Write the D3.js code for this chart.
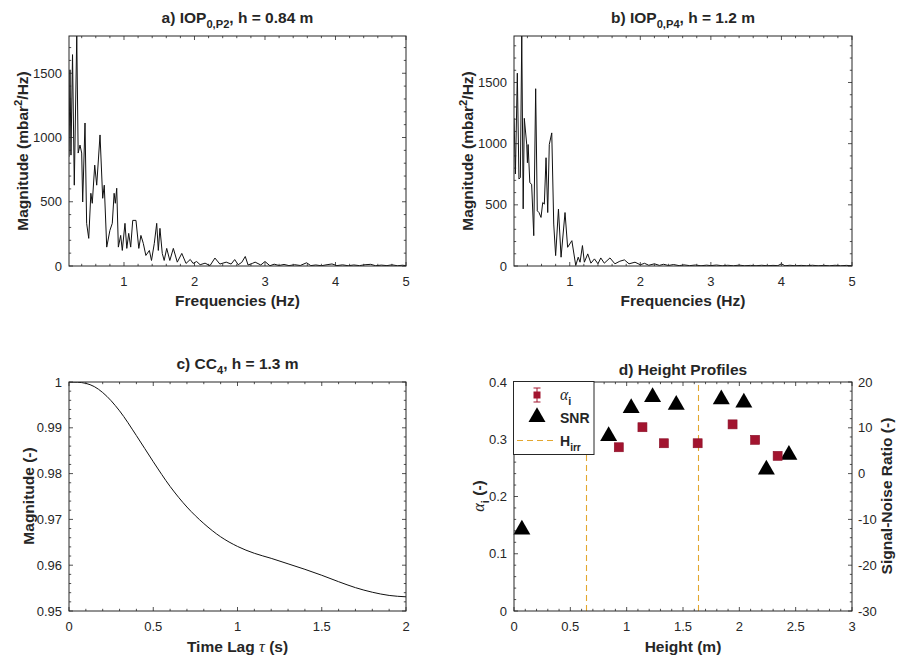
<!DOCTYPE html>
<html>
<head>
<meta charset="utf-8">
<script src="https://cdn.jsdelivr.net/npm/d3@7"></script>
<style>
  body { margin: 0; background: #fff; }
  svg { display: block; }
  text { font-family: "Liberation Sans", Arial, Helvetica, sans-serif; fill: #262626; }
  .serif { font-family: "Liberation Serif", "DejaVu Serif", serif; font-style: italic; font-weight: normal; }
</style>
</head>
<body>
<svg id="fig" width="898" height="659"></svg>
<script>
// ---- a) pressure spectrum, IOP 0 / P2 ----
const freqA = [0.22,0.234,0.248,0.27,0.295,0.33,0.35,0.376,0.40,0.414,0.447,0.47,0.50,0.53,0.55,0.585,0.613,0.66,0.698,0.72,0.755,0.80,0.834,0.86,0.877,0.897,0.92,0.953,0.976,1.014,1.04,1.067,1.095,1.124,1.17,1.21,1.24,1.274,1.31,1.36,1.39,1.43,1.464,1.487,1.51,1.543,1.57,1.606,1.65,1.70,1.756,1.82,1.88,1.94,1.98,2.03,2.08,2.15,2.22,2.29,2.36,2.45,2.52,2.57,2.62,2.67,2.72,2.76,2.82,2.86,2.94,3.00,3.07,3.13,3.20,3.27,3.34,3.42,3.50,3.59,3.65,3.72,3.80,3.88,3.95,4.02,4.10,4.18,4.26,4.34,4.42,4.50,4.57,4.65,4.73,4.80,4.88,4.95,5.00];
const magA  = [850,1527,863,1645,629,1790,879,941,879,498,1113,332,215,566,488,785,629,1020,527,629,147,277,332,566,488,605,147,238,121,332,137,254,147,355,355,137,238,176,82,121,43,176,332,121,293,98,43,137,43,137,30,98,20,51,20,35,10,22,3,62,15,30,15,50,10,28,74,8,20,30,8,35,2,14,4,12,3,10,4,25,3,8,2,10,16,3,9,2,8,3,10,13,2,7,3,9,2,6,3];

// ---- b) pressure spectrum, IOP 0 / P4 ----
const freqB = [0.21,0.23,0.257,0.28,0.30,0.32,0.34,0.356,0.39,0.40,0.41,0.434,0.46,0.49,0.517,0.54,0.564,0.593,0.617,0.64,0.664,0.688,0.71,0.745,0.773,0.80,0.84,0.877,0.933,0.97,1.03,1.085,1.12,1.146,1.18,1.207,1.255,1.30,1.35,1.40,1.44,1.49,1.57,1.64,1.71,1.775,1.84,1.925,2.00,2.06,2.12,2.20,2.27,2.33,2.40,2.47,2.55,2.62,2.70,2.78,2.86,2.94,3.00,3.08,3.16,3.24,3.32,3.40,3.48,3.56,3.64,3.72,3.80,3.88,3.95,4.00,4.05,4.12,4.20,4.28,4.36,4.44,4.52,4.60,4.68,4.76,4.84,4.92,5.00];
const magB  = [1210,752,1576,711,722,1880,467,1207,996,844,993,681,668,248,1449,451,437,397,519,506,885,437,993,1088,343,85,465,72,437,153,207,4,72,31,167,31,99,23,58,18,66,23,66,18,39,50,18,31,10,22,6,18,5,14,4,12,3,9,3,8,2,7,3,8,2,6,2,7,2,5,2,6,2,5,3,18,2,6,2,5,2,6,2,5,2,6,2,5,2];

// ---- c) cross-correlation CC4 ----
const lagT  = [0,0.05,0.1,0.15,0.2,0.3,0.4,0.5,0.6,0.7,0.8,0.9,1.0,1.1,1.2,1.3,1.4,1.5,1.6,1.7,1.8,1.9,2.0];
const ccVal = [1.0,0.99995,0.9997,0.9990,0.9977,0.9937,0.9883,0.9826,0.9772,0.9727,0.9691,0.9662,0.9641,0.9626,0.9615,0.9603,0.9591,0.9578,0.9564,0.9551,0.9541,0.9534,0.9531];

// ---- d) height profiles ----
const snrHeight   = [0.07,0.84,1.04,1.23,1.44,1.84,2.04,2.24,2.44];
const snrValue    = [-12.2,8.2,14.3,16.7,15.0,16.2,15.5,0.9,4.1];
const alphaHeight = [0.93,1.14,1.33,1.63,1.94,2.14,2.34];
const alphaValue  = [0.286,0.321,0.293,0.293,0.326,0.299,0.271];
const hIrr        = [0.635,1.635];

// tick values / labels
const freqTicks  = [1,2,3,4,5];
const magTicks   = [0,500,1000,1500];
const lagTicks   = [0,0.5,1,1.5,2];
const ccTicks    = [0.95,0.96,0.97,0.98,0.99,1];
const hTicks     = [0,0.5,1,1.5,2,2.5,3];
const alphaTicks = [0,0.1,0.2,0.3,0.4];
const snrTicks   = [-30,-20,-10,0,10,20];

const svg = d3.select("#fig");
const AX = "#262626";
const TICK_FS = 13, LABEL_FS = 15.5, TITLE_FS = 15.5;

function range(a, b, step) {
  const out = [];
  const n = Math.round((b - a) / step);
  for (let i = 0; i <= n; i++) out.push(+(a + i * step).toFixed(6));
  return out;
}

// Box with inward major/minor ticks on every side
function drawFrame(g, x, y, o) {
  const [x0, x1] = x.range();
  const [y0, y1] = y.range(); // y0 bottom, y1 top
  const MAJ = 4, MIN = 2.2;
  const tk = g.append("g").attr("stroke", AX).attr("stroke-width", 0.8);
  const xMinor = range(o.xMinor[0], o.xMinor[1], o.xMinor[2]);
  xMinor.forEach(v => {
    const len = o.xMajor.some(m => Math.abs(m - v) < 1e-6) ? MAJ : MIN;
    const px = x(v);
    if (px < x0 - 0.5 || px > x1 + 0.5) return;
    tk.append("line").attr("x1", px).attr("x2", px).attr("y1", y0).attr("y2", y0 - len);
    tk.append("line").attr("x1", px).attr("x2", px).attr("y1", y1).attr("y2", y1 + len);
  });
  const ySides = (yScale, minor, major, sides) => {
    range(minor[0], minor[1], minor[2]).forEach(v => {
      const len = major.some(m => Math.abs(m - v) < 1e-6) ? MAJ : MIN;
      const py = yScale(v);
      if (py > y0 + 0.5 || py < y1 - 0.5) return;
      if (sides.includes("l")) tk.append("line").attr("x1", x0).attr("x2", x0 + len).attr("y1", py).attr("y2", py);
      if (sides.includes("r")) tk.append("line").attr("x1", x1).attr("x2", x1 - len).attr("y1", py).attr("y2", py);
    });
  };
  if (o.yRight) {
    ySides(y, o.yMinor, o.yMajor, "l");
    ySides(o.yRight.scale, o.yRight.minor, o.yRight.major, "r");
  } else {
    ySides(y, o.yMinor, o.yMajor, "lr");
  }
  g.append("rect").attr("x", x0).attr("y", y1).attr("width", x1 - x0).attr("height", y0 - y1)
    .attr("fill", "none").attr("stroke", AX).attr("stroke-width", 1);

  // tick labels
  g.append("g").selectAll("text").data(o.xMajor).join("text")
    .attr("x", d => x(d)).attr("y", y0 + 20).attr("text-anchor", "middle")
    .attr("font-size", TICK_FS).text(o.xFmt);
  g.append("g").selectAll("text").data(o.yMajor).join("text")
    .attr("x", x0 - 7).attr("y", d => y(d)).attr("dy", "0.35em").attr("text-anchor", "end")
    .attr("font-size", TICK_FS).text(o.yFmt);
  if (o.yRight) {
    g.append("g").selectAll("text").data(o.yRight.major).join("text")
      .attr("x", x1 + 6).attr("y", d => o.yRight.scale(d)).attr("dy", "0.35em").attr("text-anchor", "start")
      .attr("font-size", TICK_FS).text(o.yRight.fmt);
  }
}

function clip(id, x, y) {
  const [x0, x1] = x.range();
  const [y0, y1] = y.range();
  svg.append("clipPath").attr("id", id).append("rect")
    .attr("x", x0).attr("y", y1).attr("width", x1 - x0).attr("height", y0 - y1);
  return `url(#${id})`;
}

// text helper: parts = [[string, kind]], kind: "n" normal, "sub", "sup", "greek"
function richText(g, x, y, parts, opts) {
  const t = g.append("text").attr("x", x).attr("y", y)
    .attr("font-size", opts.size).attr("font-weight", opts.bold ? "bold" : "normal")
    .attr("text-anchor", opts.anchor || "middle");
  if (opts.rotate) t.attr("transform", `rotate(-90,${x},${y})`);
  let shift = 0;
  parts.forEach(([s, kind]) => {
    const sp = t.append("tspan").text(s);
    let target = 0;
    if (kind === "sub") { target = opts.size * 0.33; sp.attr("font-size", opts.size * 0.72); }
    if (kind === "sup") { target = -opts.size * 0.4; sp.attr("font-size", opts.size * 0.72); }
    if (kind === "greek") { sp.attr("class", "serif").attr("font-size", opts.size * 1.05); }
    if (target !== shift) { sp.attr("dy", target - shift); shift = target; }
  });
  return t;
}

const intFmt = d => d3.format("d")(d);
const numFmt = d => String(d);

// ================= Panel a =================
{
  const x = d3.scaleLinear().domain([0.22, 5]).range([69, 406]);
  const y = d3.scaleLinear().domain([0, 1790]).range([266, 36]);
  const g = svg.append("g");
  const pts = freqA.map((f, i) => [f, magA[i]]);
  g.append("path").datum(pts).attr("clip-path", clip("clipA", x, y))
    .attr("fill", "none").attr("stroke", "#111").attr("stroke-width", 1).attr("stroke-linejoin", "round")
    .attr("d", d3.line().x(d => x(d[0])).y(d => y(d[1])));
  drawFrame(g, x, y, { xMajor: freqTicks, xMinor: [0.4, 5, 0.2], yMajor: magTicks, yMinor: [0, 1700, 100], xFmt: intFmt, yFmt: intFmt });
  richText(g, 237.5, 23, [["a) IOP", "n"], ["0,P2", "sub"], [", h = 0.84 m", "n"]], { size: TITLE_FS, bold: true });
  richText(g, 237.5, 306, [["Frequencies (Hz)", "n"]], { size: LABEL_FS, bold: true });
  richText(g, 28, 151, [["Magnitude (mbar", "n"], ["2", "sup"], ["/Hz)", "n"]], { size: LABEL_FS, bold: true, rotate: true });
}

// ================= Panel b =================
{
  const x = d3.scaleLinear().domain([0.21, 5]).range([514, 852]);
  const y = d3.scaleLinear().domain([0, 1880]).range([266, 36]);
  const g = svg.append("g");
  const pts = freqB.map((f, i) => [f, magB[i]]);
  g.append("path").datum(pts).attr("clip-path", clip("clipB", x, y))
    .attr("fill", "none").attr("stroke", "#111").attr("stroke-width", 1).attr("stroke-linejoin", "round")
    .attr("d", d3.line().x(d => x(d[0])).y(d => y(d[1])));
  drawFrame(g, x, y, { xMajor: freqTicks, xMinor: [0.4, 5, 0.2], yMajor: magTicks, yMinor: [0, 1800, 100], xFmt: intFmt, yFmt: intFmt });
  richText(g, 683, 23, [["b) IOP", "n"], ["0,P4", "sub"], [", h = 1.2 m", "n"]], { size: TITLE_FS, bold: true });
  richText(g, 683, 306, [["Frequencies (Hz)", "n"]], { size: LABEL_FS, bold: true });
  richText(g, 473, 151, [["Magnitude (mbar", "n"], ["2", "sup"], ["/Hz)", "n"]], { size: LABEL_FS, bold: true, rotate: true });
}

// ================= Panel c =================
{
  const x = d3.scaleLinear().domain([0, 2]).range([69, 406]);
  const y = d3.scaleLinear().domain([0.95, 1]).range([611, 382]);
  const g = svg.append("g");
  const pts = lagT.map((t, i) => [t, ccVal[i]]);
  g.append("path").datum(pts).attr("clip-path", clip("clipC", x, y))
    .attr("fill", "none").attr("stroke", "#111").attr("stroke-width", 1)
    .attr("d", d3.line().curve(d3.curveMonotoneX).x(d => x(d[0])).y(d => y(d[1])));
  drawFrame(g, x, y, { xMajor: lagTicks, xMinor: [0, 2, 0.1], yMajor: ccTicks, yMinor: [0.95, 1, 0.002], xFmt: numFmt, yFmt: numFmt });
  richText(g, 237.5, 369, [["c) CC", "n"], ["4", "sub"], [", h = 1.3 m", "n"]], { size: TITLE_FS, bold: true });
  richText(g, 237.5, 652, [["Time Lag ", "n"], ["τ", "greek"], [" (s)", "n"]], { size: LABEL_FS, bold: true });
  richText(g, 34, 496, [["Magnitude (-)", "n"]], { size: LABEL_FS, bold: true, rotate: true });
}

// ================= Panel d =================
{
  const x = d3.scaleLinear().domain([0, 3]).range([514, 852]);
  const yA = d3.scaleLinear().domain([0, 0.4]).range([611, 382]);
  const yS = d3.scaleLinear().domain([-30, 20]).range([611, 382]);
  const g = svg.append("g");
  const cp = clip("clipD", x, yA);
  const irrColor = "#E3A72F";
  const snap = v => Math.round(v) + 0.5;

  g.append("g").attr("clip-path", cp).selectAll("line").data(hIrr).join("line")
    .attr("x1", d => snap(x(d))).attr("x2", d => snap(x(d))).attr("y1", 611).attr("y2", 382)
    .attr("stroke", irrColor).attr("stroke-width", 1.1).attr("stroke-dasharray", "6,4");

  const tri = d3.symbol().type(d3.symbolTriangle).size(125);
  g.append("g").selectAll("path").data(snrHeight).join("path")
    .attr("transform", (d, i) => `translate(${x(d)},${yS(snrValue[i])})`)
    .attr("d", tri).attr("fill", "#000");

  const sq = 9;
  g.append("g").selectAll("rect").data(alphaHeight).join("rect")
    .attr("x", d => x(d) - sq / 2).attr("y", (d, i) => yA(alphaValue[i]) - sq / 2)
    .attr("width", sq).attr("height", sq)
    .attr("fill", "#A2142F").attr("stroke", "#8a1028").attr("stroke-width", 0.6);

  drawFrame(g, x, yA, {
    xMajor: hTicks, xMinor: [0, 3, 0.1], yMajor: alphaTicks, yMinor: [0, 0.4, 0.02],
    xFmt: numFmt, yFmt: numFmt,
    yRight: { scale: yS, major: snrTicks, minor: [-30, 20, 2], fmt: numFmt }
  });

  richText(g, 683, 375, [["d) Height Profiles", "n"]], { size: TITLE_FS, bold: true });
  richText(g, 683, 652, [["Height (m)", "n"]], { size: LABEL_FS, bold: true });
  richText(g, 484, 496, [["α", "greek"], ["i", "sub"], [" (-)", "n"]], { size: LABEL_FS, bold: true, rotate: true });
  richText(g, 892, 496, [["Signal-Noise Ratio (-)", "n"]], { size: LABEL_FS, bold: true, rotate: true });

  // legend
  const lg = g.append("g");
  lg.append("rect").attr("x", 513.5).attr("y", 381.5).attr("width", 80.5).attr("height", 73)
    .attr("fill", "#fff").attr("stroke", AX).attr("stroke-width", 1);
  const ex = 537;
  lg.append("line").attr("x1", ex).attr("x2", ex).attr("y1", 388).attr("y2", 402).attr("stroke", "#A2142F").attr("stroke-width", 1);
  lg.append("line").attr("x1", ex - 3.5).attr("x2", ex + 3.5).attr("y1", 388).attr("y2", 388).attr("stroke", "#A2142F").attr("stroke-width", 1);
  lg.append("line").attr("x1", ex - 3.5).attr("x2", ex + 3.5).attr("y1", 402).attr("y2", 402).attr("stroke", "#A2142F").attr("stroke-width", 1);
  lg.append("rect").attr("x", ex - 3.5).attr("y", 391.5).attr("width", 7).attr("height", 7).attr("fill", "#A2142F");
  richText(lg, 560, 400, [["α", "greek"], ["i", "sub"]], { size: 15, bold: true, anchor: "start" });
  lg.append("path").attr("transform", `translate(${ex},417)`).attr("d", tri).attr("fill", "#000");
  richText(lg, 560, 423, [["SNR", "n"]], { size: 14, bold: true, anchor: "start" });
  lg.append("line").attr("x1", 517).attr("x2", 557).attr("y1", 440.5).attr("y2", 440.5)
    .attr("stroke", irrColor).attr("stroke-width", 1.1).attr("stroke-dasharray", "6,4");
  richText(lg, 560, 446, [["H", "n"], ["irr", "sub"]], { size: 14, bold: true, anchor: "start" });
}
</script>
</body>
</html>
